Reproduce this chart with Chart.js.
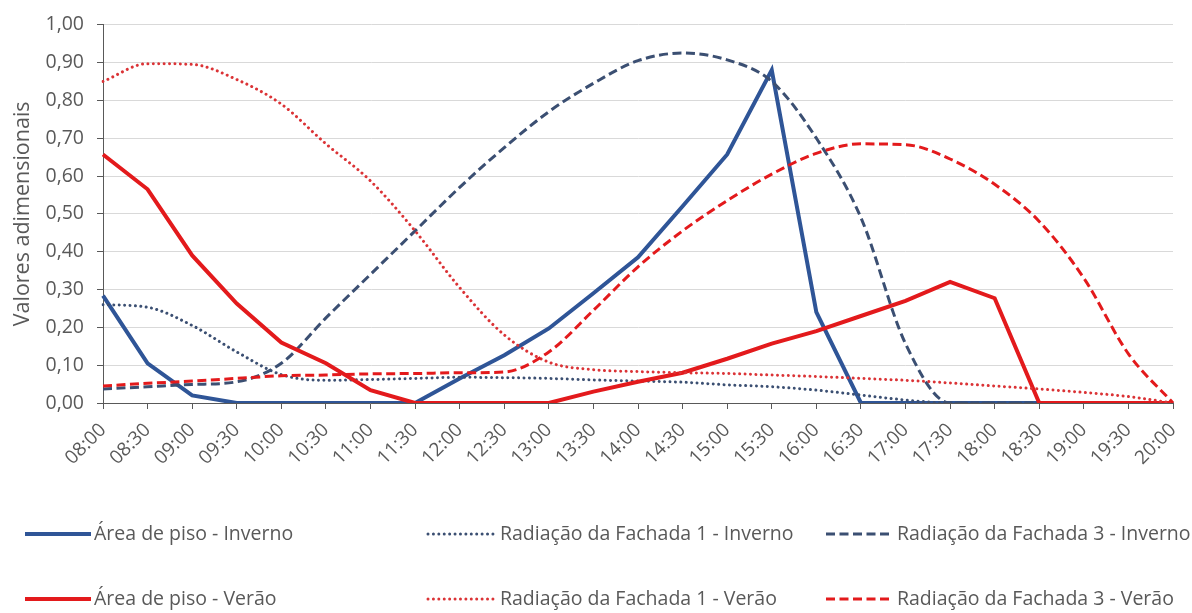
<!DOCTYPE html>
<html lang="pt">
<head>
  <meta charset="UTF-8" />
  <title>Valores adimensionais</title>
  <script src="https://cdn.jsdelivr.net/npm/chart.js"></script>
  <style>
    body   { margin:0; background:#fff; }
    .wrap  { width:1192px; height:613px; position:relative; }
  </style>
</head>
<body>
  <div class="wrap"><canvas id="chart"></canvas></div>

  <script>
    /* ---- data ---- */
    const horas = ["08:00","08:30","09:00","09:30","10:00","10:30","11:00","11:30","12:00",
                   "12:30","13:00","13:30","14:00","14:30","15:00","15:30","16:00","16:30",
                   "17:00","17:30","18:00","18:30","19:00","19:30","20:00"];

    const areaInverno      = [0.284,0.105,0.02,0,0,0,0,0,0.065,0.126,0.197,0.29,0.385,
                              0.52,0.657,0.88,0.24,0,0,0,0,0,0,0,0];
    const fachada1Inverno  = [0.26,0.253,0.205,0.135,0.075,0.06,0.062,0.065,0.068,0.067,
                              0.065,0.061,0.058,0.055,0.048,0.043,0.034,0.021,0.008,0,0,0,0,0,0];
    const fachada3Inverno  = [0.037,0.043,0.049,0.056,0.105,0.225,0.34,0.455,0.57,0.675,
                              0.77,0.845,0.905,0.925,0.907,0.85,0.70,0.49,0.157,0,0,0,0,0,0];
    const areaVerao        = [0.657,0.565,0.39,0.263,0.16,0.105,0.034,0,0,0,0,0.03,0.056,
                              0.08,0.117,0.157,0.19,0.23,0.27,0.32,0.277,0,0,0,0];
    const fachada1Verao    = [0.85,0.897,0.895,0.855,0.79,0.685,0.587,0.455,0.305,0.18,
                              0.108,0.088,0.083,0.08,0.078,0.074,0.07,0.065,0.06,0.053,
                              0.045,0.037,0.028,0.017,0];
    const fachada3Verao    = [0.045,0.052,0.058,0.065,0.072,0.074,0.077,0.078,0.08,0.082,
                              0.135,0.245,0.36,0.455,0.535,0.605,0.66,0.685,0.683,0.645,
                              0.578,0.48,0.33,0.13,0];

    const nomes = ["Área de piso - Inverno","Radiação da Fachada 1 - Inverno","Radiação da Fachada 3 - Inverno",
                   "Área de piso - Verão","Radiação da Fachada 1 - Verão","Radiação da Fachada 3 - Verão"];

    /* ---- styles ---- */
    const AZUL = "#2F5597", AZUL_ESC = "#3B4F72", VERM = "#E31A1C", VERM_CL = "#DB3336";
    const TXT = "#595959";
    const FONT = "'Open Sans', sans-serif";

    const solid  = c => ({borderColor:c, borderWidth:4, borderDash:[], borderCapStyle:"butt", tension:0});
    const dotted = c => ({borderColor:c, borderWidth:3, borderDash:[0.01,5.4], borderCapStyle:"round",
                          cubicInterpolationMode:"monotone"});
    const dashed = c => ({borderColor:c, borderWidth:3, borderDash:[9,4.5], borderCapStyle:"butt",
                          cubicInterpolationMode:"monotone"});

    const series = [areaInverno, fachada1Inverno, fachada3Inverno, areaVerao, fachada1Verao, fachada3Verao];
    const estilos = [solid(AZUL), dotted(AZUL_ESC), dashed(AZUL_ESC), solid(VERM), dotted(VERM_CL), dashed(VERM)];

    const datasets = series.map((d,i)=>Object.assign({
      label:nomes[i], data:d, pointRadius:0, fill:false, order:5-i
    }, estilos[i]));

    /* legend: 2 rows x 3 columns, like the excel one */
    const legCols = [{x0:25,x1:91,tx:94},{x0:428,x1:494,tx:500},{x0:826,x1:892,tx:897}];
    const legRows = [534,599];

    const gridLegend = {
      id:"gridLegend",
      afterDraw(chart){
        const ctx = chart.ctx;
        chart.data.datasets.forEach((ds,i)=>{
          const c = legCols[i%3], y = legRows[Math.floor(i/3)];
          ctx.save();
          ctx.strokeStyle = ds.borderColor;
          ctx.lineWidth = ds.borderWidth;
          ctx.setLineDash(ds.borderDash);
          ctx.lineCap = ds.borderCapStyle;
          ctx.beginPath(); ctx.moveTo(c.x0,y); ctx.lineTo(c.x1,y); ctx.stroke();
          ctx.setLineDash([]);
          ctx.fillStyle = TXT;
          ctx.font = "19.5px " + FONT;
          ctx.textBaseline = "middle";
          ctx.fillText(ds.label, c.tx, y);
          ctx.restore();
        });
      }
    };

    new Chart(document.getElementById("chart"), {
      type:"line",
      data:{ labels:horas, datasets },
      options:{
        responsive:true, maintainAspectRatio:false, animation:false,
        layout:{ padding:{left:0, right:19, top:23, bottom:140} },
        plugins:{ legend:{display:false}, tooltip:{enabled:false} },
        scales:{
          x:{
            offset:false,
            grid:{ drawOnChartArea:false, tickLength:6, tickColor:"#595959" },
            border:{ color:"#595959", width:1 },
            ticks:{ color:TXT, font:{family:FONT, size:19}, maxRotation:45, minRotation:45,
                    autoSkip:false, padding:10 },
            // keep the plot edges fixed, labels may overflow into the padding
            afterFit:s=>{ s.height = 70; s.paddingLeft = 0; s.paddingRight = 0; }
          },
          y:{
            min:0, max:1,
            grid:{ color:"#D9D9D9", tickLength:6, tickColor:"#595959" },
            border:{ color:"#595959", width:1 },
            ticks:{ stepSize:0.1, color:TXT, font:{family:FONT, size:19.5}, padding:13,
                    callback:v=>v.toFixed(2).replace(".",",") },
            title:{ display:true, text:"Valores adimensionais", color:TXT,
                    font:{family:FONT, size:21.5, weight:"normal"}, padding:{top:10, bottom:0} },
            afterFit:s=>{ s.width = 103; }
          }
        }
      },
      plugins:[gridLegend]
    });
  </script>
</body>
</html>
